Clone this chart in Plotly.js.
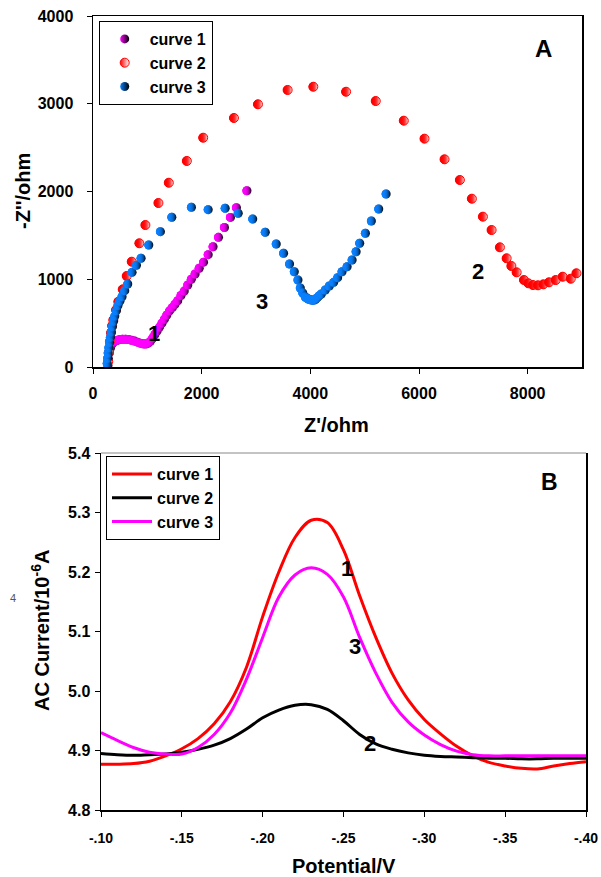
<!DOCTYPE html>
<html><head><meta charset="utf-8">
<script src="https://cdn.plot.ly/plotly-3.0.1.min.js"></script>
<style>html,body{margin:0;padding:0;background:#fff}#chart{width:601px;height:877px}</style>
</head><body><div id="chart"></div>
<script>
// ---- Panel A: Nyquist data (Z'/ohm, -Z''/ohm) ----
const zRe1 = [275, 285, 300, 320, 345, 375, 410, 450, 495, 545, 600, 655, 710, 765, 820, 870, 915, 955, 990, 1025, 1060, 1100, 1140, 1180, 1225, 1270, 1315, 1360, 1410, 1460, 1510, 1560, 1620, 1680, 1745, 1810, 1880, 1955, 2035, 2120, 2210, 2310, 2420, 2530, 2640, 2833];
const zIm1 = [20, 90, 160, 215, 255, 280, 295, 305, 312, 315, 316, 312, 305, 295, 283, 272, 265, 262, 265, 275, 295, 330, 370, 410, 455, 500, 545, 593, 640, 676, 715, 755, 815, 865, 935, 1000, 1060, 1125, 1195, 1280, 1370, 1478, 1590, 1705, 1815, 2009];

const zRe2 = [280, 295, 312, 332, 352, 374, 424, 466, 547, 621, 713, 853, 964, 1204, 1395, 1727, 2028, 2594, 3036, 3582, 4055, 4658, 5204, 5720, 6101, 6470, 6752, 6973, 7176, 7336, 7489, 7613, 7700, 7797, 7932, 8013, 8098, 8190, 8289, 8393, 8516, 8645, 8793, 8898];
const zIm2 = [60, 170, 290, 390, 470, 536, 650, 744, 885, 1037, 1200, 1410, 1618, 1869, 2100, 2348, 2613, 2838, 2994, 3157, 3194, 3137, 3031, 2807, 2602, 2367, 2131, 1918, 1713, 1561, 1364, 1239, 1151, 1079, 991, 954, 934, 931, 942, 965, 991, 1029, 1006, 1068];

const zRe3 = [262, 270, 280, 292, 305, 320, 337, 356, 378, 402, 430, 460, 495, 535, 585, 640, 719, 800, 885, 1027, 1241, 1451, 1812, 2120, 2433, 2673, 2940, 3171, 3373, 3508, 3618, 3705, 3773, 3816, 3862, 3908, 3940, 3963, 3990, 4018, 4045, 4074, 4100, 4129, 4160, 4203, 4276, 4350, 4430, 4503, 4584, 4677, 4769, 4843, 4909, 5014, 5124, 5259, 5395];
const zIm3 = [40, 100, 160, 220, 280, 340, 400, 460, 520, 580, 640, 700, 750, 800, 870, 946, 1079, 1160, 1239, 1390, 1542, 1706, 1820, 1793, 1809, 1752, 1687, 1535, 1402, 1296, 1174, 1086, 991, 900, 843, 798, 783, 775, 768, 764, 762, 764, 775, 790, 810, 832, 877, 923, 965, 1018, 1086, 1143, 1219, 1314, 1410, 1524, 1664, 1800, 1972];

// ---- Panel B: AC voltammetry data ----
const potential = [-0.10, -0.11, -0.12, -0.13, -0.14, -0.15, -0.16, -0.17, -0.18, -0.19, -0.20, -0.21, -0.22, -0.23, -0.24, -0.25, -0.26, -0.27, -0.28, -0.29, -0.30, -0.31, -0.32, -0.33, -0.34, -0.35, -0.36, -0.37, -0.38, -0.39, -0.40];
const current1 = [4.877, 4.877, 4.878, 4.882, 4.891, 4.903, 4.920, 4.945, 4.982, 5.040, 5.125, 5.200, 5.258, 5.287, 5.283, 5.237, 5.160, 5.090, 5.030, 4.985, 4.952, 4.928, 4.907, 4.891, 4.880, 4.874, 4.870, 4.869, 4.874, 4.878, 4.881];
const current2 = [4.895, 4.893, 4.892, 4.893, 4.894, 4.897, 4.902, 4.909, 4.920, 4.936, 4.955, 4.968, 4.976, 4.977, 4.969, 4.950, 4.927, 4.911, 4.902, 4.896, 4.892, 4.890, 4.889, 4.888, 4.887, 4.887, 4.886, 4.886, 4.887, 4.887, 4.887];
const current3 = [4.930, 4.917, 4.905, 4.897, 4.894, 4.894, 4.905, 4.927, 4.963, 5.020, 5.090, 5.158, 5.195, 5.207, 5.196, 5.158, 5.090, 5.030, 4.981, 4.948, 4.926, 4.910, 4.899, 4.893, 4.891, 4.891, 4.891, 4.891, 4.891, 4.891, 4.891];

// ---- Tick labels ----
const aXTickVals = [0, 2000, 4000, 6000, 8000];
const aXTickText = ['0', '2000', '4000', '6000', '8000'];
const aYTickVals = [0, 1000, 2000, 3000, 4000];
const aYTickText = ['0', '1000', '2000', '3000', '4000'];
const bXTickVals = [-0.10, -0.15, -0.20, -0.25, -0.30, -0.35, -0.40];
const bXTickText = ['-.10', '-.15', '-.20', '-.25', '-.30', '-.35', '-.40'];
const bYTickVals = [4.8, 4.9, 5.0, 5.1, 5.2, 5.3, 5.4];
const bYTickText = ['4.8', '4.9', '5.0', '5.1', '5.2', '5.3', '5.4'];

const W = 601, H = 877;
const px = v => v / W;
const py = v => 1 - v / H;
const FAM = 'Liberation Sans, Arial, Helvetica, sans-serif';
const bold = (s, c) => ({family: FAM, size: s, weight: 'bold', color: c || '#000'});
const b = arr => arr.map(t => '<b>' + t + '</b>');

// half-filled circle look: base marker with a horizontal gradient, plus overlays that keep the left side solid
function nyquist(xs, ys, name, col, rightCol, outline) {
  const out = [{x: xs, y: ys, name: name, mode: 'markers', xaxis: 'x', yaxis: 'y', legend: 'legend',
    marker: {size: 9, color: col, gradient: {type: 'horizontal', color: rightCol},
      line: outline ? {width: 1, color: col} : {width: 0}}}];
  const clear = col === '#ff0000' ? 'rgba(255,0,0,0)' : (col === '#ff00ff' ? 'rgba(255,0,255,0)' : 'rgba(10,128,255,0)');
  for (let k = 0; k < 2; k++) {
    out.push({x: xs, y: ys, name: name, mode: 'markers', xaxis: 'x', yaxis: 'y', showlegend: false,
      marker: {size: 9, color: col, gradient: {type: 'horizontal', color: clear}, line: {width: 0}}});
  }
  return out;
}

const traces = [].concat(
  nyquist(zRe1, zIm1, 'curve 1', '#ff00ff', '#000000', false),
  nyquist(zRe2, zIm2, 'curve 2', '#ff0000', '#ffffff', true),
  nyquist(zRe3, zIm3, 'curve 3', '#0a80ff', '#000000', false),
  [
  {x: potential, y: current1, name: 'curve 1', mode: 'lines', xaxis: 'x2', yaxis: 'y2', legend: 'legend2',
   line: {color: '#ff0000', width: 3, shape: 'spline'}},
  {x: potential, y: current2, name: 'curve 2', mode: 'lines', xaxis: 'x2', yaxis: 'y2', legend: 'legend2',
   line: {color: '#000000', width: 3, shape: 'spline'}},
  {x: potential, y: current3, name: 'curve 3', mode: 'lines', xaxis: 'x2', yaxis: 'y2', legend: 'legend2',
   line: {color: '#ff00ff', width: 3, shape: 'spline'}}
  ]
);

const axBase = {showgrid: false, zeroline: false, showline: true, linecolor: '#000', linewidth: 1.5,
  ticks: 'outside', ticklen: 5, tickwidth: 1, tickcolor: '#000', automargin: false, fixedrange: true};

const ann = (text, x, y, size, extra) => Object.assign({text: text, x: px(x), y: py(y), xref: 'paper', yref: 'paper',
  xanchor: 'center', yanchor: 'middle', showarrow: false, font: bold(size)}, extra || {});

const layout = {
  width: W, height: H,
  margin: {l: 0, r: 0, t: 0, b: 0},
  paper_bgcolor: '#fff', plot_bgcolor: '#fff',
  showlegend: true,
  xaxis: Object.assign({}, axBase, {domain: [px(93), px(582)], anchor: 'y', range: [0, 9000],
    tickvals: aXTickVals, ticktext: b(aXTickText), mirror: true, tickfont: bold(16), ticklabelstandoff: 6}),
  yaxis: Object.assign({}, axBase, {domain: [py(367), py(16)], anchor: 'x', range: [0, 4000],
    tickvals: aYTickVals, ticktext: b(aYTickText), mirror: true, tickfont: bold(16), ticklabelstandoff: 10}),
  xaxis2: Object.assign({}, axBase, {domain: [px(101), px(586)], anchor: 'y2', range: [-0.10, -0.40],
    tickvals: bXTickVals, ticktext: b(bXTickText), mirror: false, tickfont: bold(14), ticklabelstandoff: 10}),
  yaxis2: Object.assign({}, axBase, {domain: [py(810), py(453)], anchor: 'x2', range: [4.8, 5.4],
    tickvals: bYTickVals, ticktext: b(bYTickText), mirror: true, tickfont: bold(16), ticklabelstandoff: 1}),
  legend: {x: px(98.7), y: py(21), xanchor: 'left', yanchor: 'top', bgcolor: '#fff', bordercolor: '#000',
    borderwidth: 1, font: bold(16), itemwidth: 40, tracegroupgap: 0},
  legend2: {x: px(106), y: py(456), xanchor: 'left', yanchor: 'top', bgcolor: '#fff', bordercolor: '#000',
    borderwidth: 1, font: bold(16), itemwidth: 40, tracegroupgap: 0},
  shapes: [
    {type: 'line', xref: 'paper', yref: 'paper', x0: px(101), x1: px(586), y0: py(453), y1: py(453),
     line: {color: '#888', width: 1}}
  ],
  annotations: [
    ann("<b>-Z''/ohm</b>", 23, 191, 20, {textangle: -90}),
    ann("<b>Z'/ohm</b>", 337, 425, 20),
    ann('<b>AC Current/10<sup>-6</sup>A</b>', 40, 631, 20, {textangle: -90}),
    ann('<b>Potential/V</b>', 344, 866, 20),
    ann('<b>A</b>', 543, 48, 24),
    ann('<b>B</b>', 549, 482, 23),
    ann('<b>1</b>', 154, 333, 22),
    ann('<b>3</b>', 262, 302, 22),
    ann('<b>2</b>', 478, 272, 22),
    ann('<b>1</b>', 347, 568, 22),
    ann('<b>3</b>', 355, 646, 22),
    ann('<b>2</b>', 370, 743, 22),
    {text: '4', x: px(13), y: py(598), xref: 'paper', yref: 'paper', xanchor: 'center', yanchor: 'middle',
     showarrow: false, font: {family: FAM, size: 11, color: '#555'}}
  ]
};

Plotly.newPlot('chart', traces, layout, {staticPlot: true, displayModeBar: false});
</script></body></html>
